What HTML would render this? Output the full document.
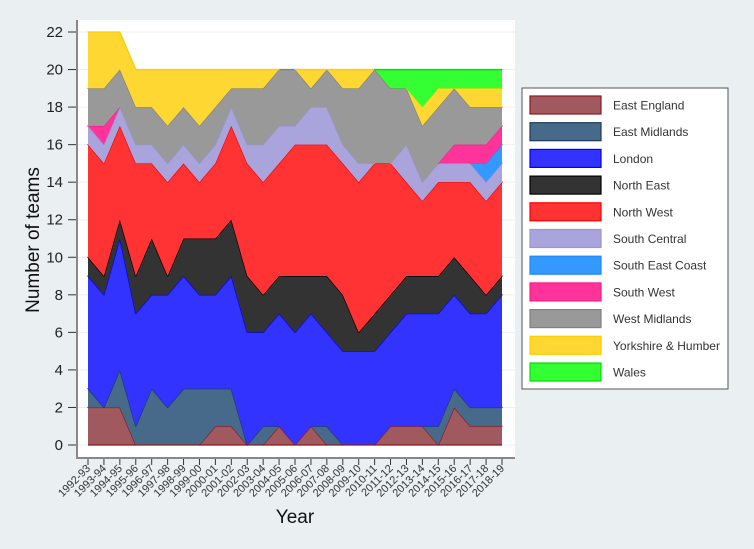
<!DOCTYPE html>
<html><head><meta charset="utf-8"><style>
html,body{margin:0;padding:0;background:#eaf0f2;}
svg{display:block;font-family:"Liberation Sans",sans-serif;}
</style></head><body>
<svg id="chart" width="754" height="549">
<rect x="0" y="0" width="754" height="549" fill="#eaf0f2"/>
<rect x="76" y="20" width="439" height="438" fill="#fff"/>
<g id="grid"></g><g id="areas"></g>
<line x1="77" y1="20" x2="77" y2="458" stroke="#888" stroke-width="2"/>
<line x1="76" y1="458" x2="515" y2="458" stroke="#888" stroke-width="2"/>
<g id="yticks"></g><g id="xticks"></g>
<text x="295" y="523" font-size="19" text-anchor="middle" fill="#111">Year</text>
<text transform="translate(39,240) rotate(-90)" font-size="19" text-anchor="middle" fill="#111">Number of teams</text>
<rect x="522" y="88" width="206" height="301" fill="#fff" stroke="#555" stroke-width="1"/>
<g id="legend"></g>
</svg>
<script>
const seasons=["1992-93","1993-94","1994-95","1995-96","1996-97","1997-98","1998-99","1999-00","2000-01","2001-02","2002-03","2003-04","2004-05","2005-06","2006-07","2007-08","2008-09","2009-10","2010-11","2011-12","2012-13","2013-14","2014-15","2015-16","2016-17","2017-18","2018-19"];
const regions=["East England","East Midlands","London","North East","North West","South Central","South East Coast","South West","West Midlands","Yorkshire & Humber","Wales"];
const fills=["#a05a5f","#486a8a","#3333ff","#333333","#ff3333","#a9a4dc","#3399ff","#ff3399","#999999","#ffd733","#33ff33"];
const strokes=["#8b1a1a","#1c3d5e","#0000ff","#000000","#ff0000","#9a94d6","#1f88ff","#ff1a88","#808080","#ffcc00","#00dd00"];
const eastEngland=[2,2,2,0,0,0,0,0,1,1,0,0,1,0,1,0,0,0,0,1,1,1,0,2,1,1,1];
const eastMidlands=[1,0,2,1,3,2,3,3,2,2,0,1,0,0,0,1,0,0,0,0,0,0,1,1,1,1,1];
const london=[6,6,7,6,5,6,6,5,5,6,6,5,6,6,6,5,5,5,5,5,6,6,6,5,5,5,6];
const northEast=[1,1,1,2,3,1,2,3,3,3,3,2,2,3,2,3,3,1,2,2,2,2,2,2,2,1,1];
const northWest=[6,6,5,6,4,5,4,3,4,5,6,6,6,7,7,7,7,8,8,7,5,4,5,4,5,5,5];
const southCentral=[1,1,1,1,1,1,1,1,1,1,1,2,2,1,2,2,1,1,0,0,2,1,1,1,1,1,1];
const southEastCoast=[0,0,0,0,0,0,0,0,0,0,0,0,0,0,0,0,0,0,0,0,0,0,0,0,0,1,1];
const southWest=[0,1,0,0,0,0,0,0,0,0,0,0,0,0,0,0,0,0,0,0,0,0,0,1,1,1,1];
const westMidlands=[2,2,2,2,2,2,2,2,2,1,3,3,3,3,1,2,3,4,5,4,3,3,3,3,2,2,1];
const yorkshire=[3,3,2,2,2,3,2,3,2,1,1,1,0,0,1,0,1,1,0,0,0,1,1,0,1,1,1];
const wales=[0,0,0,0,0,0,0,0,0,0,0,0,0,0,0,0,0,0,0,1,1,2,1,1,1,1,1];
const yTicks=[0,2,4,6,8,10,12,14,16,18,20,22];
const series=[eastEngland,eastMidlands,london,northEast,northWest,southCentral,southEastCoast,southWest,westMidlands,yorkshire,wales];
const NS="http://www.w3.org/2000/svg";
const xS=i=>88+i*(502-88)/(seasons.length-1);
const yS=v=>445-v*(445-32)/22;
function mk(t,a){const e=document.createElementNS(NS,t);for(const k in a)e.setAttribute(k,a[k]);return e;}
const grid=document.getElementById('grid'),yt=document.getElementById('yticks');
yTicks.forEach(v=>{
 const g=mk('line',{x1:78,x2:515,y1:yS(v),y2:yS(v),stroke:'#eaf0f2','stroke-width':1});
 
 
 grid.appendChild(g);
 const t=mk('line',{x1:68,x2:76,y1:yS(v),y2:yS(v),stroke:'#333','stroke-width':1});
 
 
 yt.appendChild(t);
 const l=mk('text',{x:63,y:yS(v)+5,'font-size':15,'text-anchor':'end',fill:'#222'});
 l.textContent=v;
 
 
 yt.appendChild(l);
});
const xt=document.getElementById('xticks');
seasons.forEach((s,i)=>{
 const x=xS(i);
 const t=mk('line',{x1:x,x2:x,y1:459,y2:465,stroke:'#333','stroke-width':1});
 
 
 xt.appendChild(t);
 const l=mk('text',{transform:`translate(${x+3},${469}) rotate(-45)`,'font-size':11,'text-anchor':'end',fill:'#333'});
 l.textContent=s;
 
 
 xt.appendChild(l);
});
const areas=document.getElementById('areas');
let base=seasons.map(()=>0);
series.forEach((vals,k)=>{
 const top=base.map((b,i)=>b+vals[i]);
 let d='';
 top.forEach((v,i)=>{d+=(i?'L':'M')+xS(i).toFixed(2)+','+yS(v).toFixed(2);});
 for(let i=base.length-1;i>=0;i--)d+='L'+xS(i).toFixed(2)+','+yS(base[i]).toFixed(2);
 d+='Z';
 const name=regions[k].toLowerCase().replace(/[^a-z]+/g,'-');
 const p=mk('path',{d:d,fill:fills[k],stroke:'none'});
 
 
 areas.appendChild(p);
 let ld='';
 for(let i=0;i<top.length-1;i++){
  if(vals[i]>0||vals[i+1]>0){
   ld+='M'+xS(i).toFixed(2)+','+yS(top[i]).toFixed(2)+'L'+xS(i+1).toFixed(2)+','+yS(top[i+1]).toFixed(2);
   if(k===0||true){}
  }
 }
 if(ld){
  const ln=mk('path',{d:ld,fill:'none',stroke:strokes[k],'stroke-width':1.3,'stroke-linejoin':'round','stroke-linecap':'round'});
  
  
  areas.appendChild(ln);
 }
 base=top;
});
const bl=mk('line',{x1:xS(0),x2:xS(seasons.length-1),y1:yS(0),y2:yS(0),stroke:'#8b1a1a','stroke-width':1.2});


areas.appendChild(bl);
const lg=document.getElementById('legend');
regions.forEach((r,k)=>{
 const y=105+k*26.7;
 const sw=mk('rect',{x:530,y:y-9,width:71,height:18,fill:fills[k],stroke:strokes[k],'stroke-width':1.2});
 
 
 lg.appendChild(sw);
 const t=mk('text',{x:613,y:y+4.5,'font-size':12,fill:'#333'});
 t.textContent=r;
 
 
 lg.appendChild(t);
});
</script>
</body></html>
